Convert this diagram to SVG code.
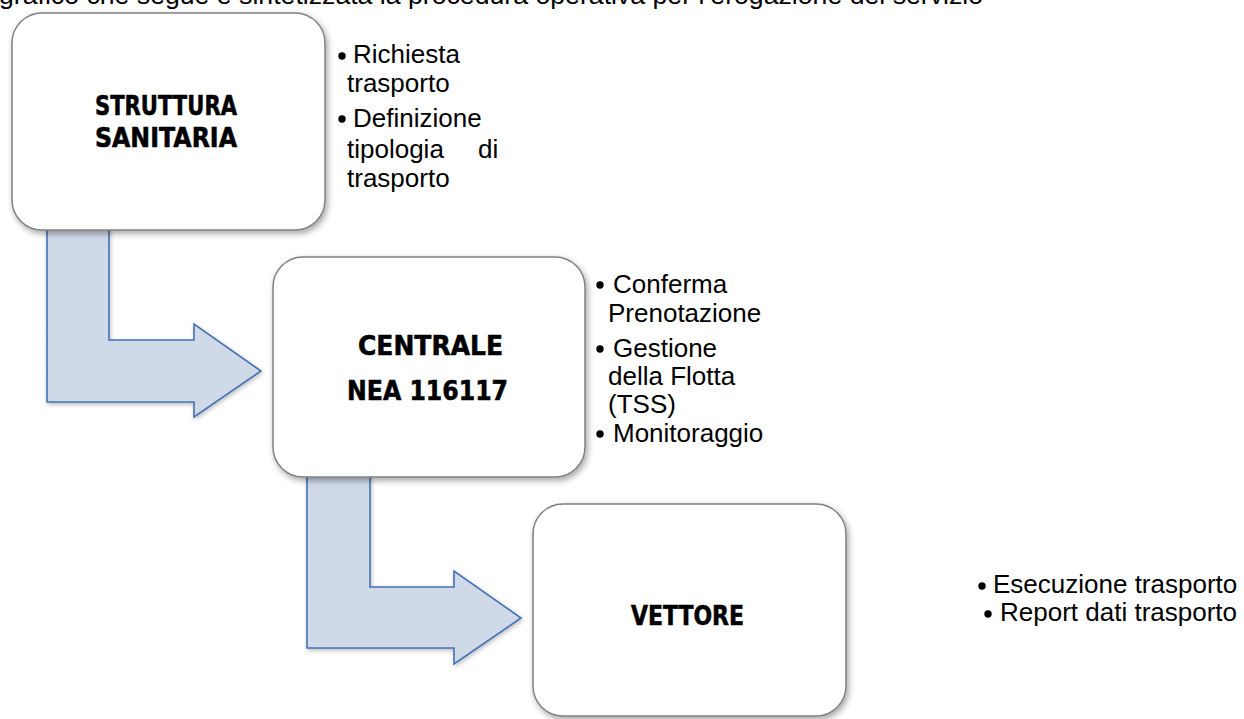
<svg xmlns="http://www.w3.org/2000/svg" width="1244" height="719" viewBox="0 0 1244 719">
  <style>
    .box { fill: #ffffff; stroke: #808080; stroke-width: 1.5; filter: url(#sh); }
    .arrow { fill: #cfd9e8; stroke: #4572b4; stroke-width: 1.6; filter: url(#sh2); }
    .title { font-family: "DejaVu Sans", "Liberation Sans", sans-serif; font-weight: bold; font-size: 27px; fill: #000; stroke: #000; stroke-width: 0.6; }
    .txt { font-family: "Liberation Sans", Arial, sans-serif; font-size: 26px; fill: #000; }
    .bul { fill: #000; }
  </style>
  <defs>
    <filter id="sh" x="-10%" y="-10%" width="125%" height="125%">
      <feDropShadow dx="2" dy="3" stdDeviation="3" flood-color="#000" flood-opacity="0.35"/>
    </filter>
    <filter id="sh2" x="-10%" y="-10%" width="125%" height="125%">
      <feDropShadow dx="1" dy="2" stdDeviation="2" flood-color="#000" flood-opacity="0.25"/>
    </filter>
  </defs>
  <rect width="1244" height="719" fill="#ffffff"/>
  <text class="txt" x="-1" y="4" font-size="22" textLength="984" lengthAdjust="spacingAndGlyphs">grafico che segue è sintetizzata la procedura operativa per l’erogazione del servizio</text>

  <g id="connectors">
    <path class="arrow" d="M47,225 L109,225 L109,340 L194,340 L194,324 L261,371 L194,417 L194,402 L47,402 Z"/>
    <path class="arrow" d="M307,470 L370,470 L370,587 L454,587 L454,571 L521,618 L454,664 L454,648 L307,648 Z"/>
  </g>

  <g id="struttura">
    <rect class="box" x="12" y="13" width="313" height="217" rx="30" ry="30"/>
    <text class="title" x="95" y="115" textLength="142" lengthAdjust="spacingAndGlyphs">STRUTTURA</text>
    <text class="title" x="95" y="147" textLength="142" lengthAdjust="spacingAndGlyphs">SANITARIA</text>
  </g>
  <g id="struttura-notes">
    <circle class="bul" cx="342" cy="56" r="3.7"/>
    <text class="txt" x="353" y="63">Richiesta</text>
    <text class="txt" x="347" y="92">trasporto</text>
    <circle class="bul" cx="342" cy="119" r="3.7"/>
    <text class="txt" x="353" y="127">Definizione</text>
    <text class="txt" x="347" y="158">tipologia</text>
    <text class="txt" x="478" y="158">di</text>
    <text class="txt" x="347" y="187">trasporto</text>
  </g>

  <g id="centrale">
    <rect class="box" x="273" y="257" width="312" height="220" rx="30" ry="30"/>
    <text class="title" x="358" y="355" textLength="145" lengthAdjust="spacingAndGlyphs">CENTRALE</text>
    <text class="title" x="347" y="400" textLength="161" lengthAdjust="spacingAndGlyphs">NEA 116117</text>
  </g>
  <g id="centrale-notes">
    <circle class="bul" cx="600" cy="285" r="3.7"/>
    <text class="txt" x="613" y="293">Conferma</text>
    <text class="txt" x="608" y="322">Prenotazione</text>
    <circle class="bul" cx="600" cy="349" r="3.7"/>
    <text class="txt" x="613" y="357">Gestione</text>
    <text class="txt" x="608" y="385">della Flotta</text>
    <text class="txt" x="608" y="413">(TSS)</text>
    <circle class="bul" cx="600" cy="434" r="3.7"/>
    <text class="txt" x="613" y="442">Monitoraggio</text>
  </g>

  <g id="vettore">
    <rect class="box" x="533" y="504" width="313" height="212" rx="30" ry="30"/>
    <text class="title" x="631" y="625" textLength="113" lengthAdjust="spacingAndGlyphs">VETTORE</text>
  </g>
  <g id="vettore-notes">
    <circle class="bul" cx="982" cy="586" r="3.7"/>
    <text class="txt" x="993" y="593" font-size="25.5">Esecuzione trasporto</text>
    <circle class="bul" cx="988" cy="614" r="3.7"/>
    <text class="txt" x="1000" y="621" font-size="25.5">Report dati trasporto</text>
  </g>
</svg>
